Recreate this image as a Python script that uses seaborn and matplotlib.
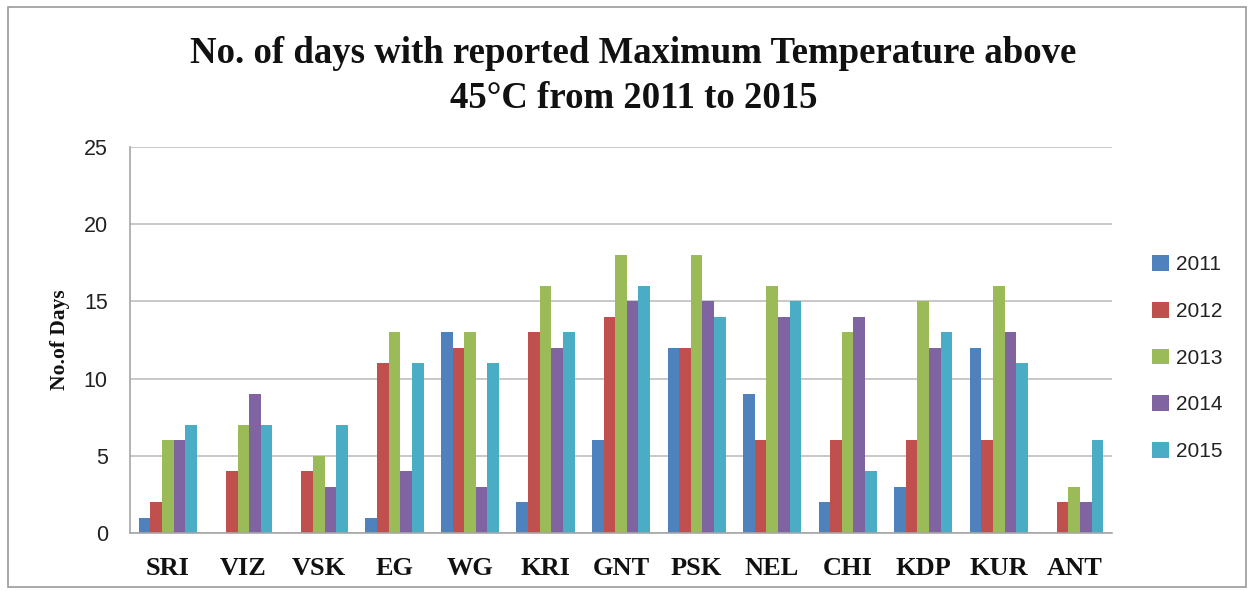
import matplotlib
matplotlib.use("Agg")
import matplotlib.pyplot as plt
import seaborn as sns
import pandas as pd
from matplotlib.patches import Rectangle

districts = ["SRI", "VIZ", "VSK", "EG", "WG", "KRI", "GNT", "PSK", "NEL", "CHI", "KDP", "KUR", "ANT"]
years = ["2011", "2012", "2013", "2014", "2015"]
y2011 = [1, 0, 0, 1, 13, 2, 6, 12, 9, 2, 3, 12, 0]
y2012 = [2, 4, 4, 11, 12, 13, 14, 12, 6, 6, 6, 6, 2]
y2013 = [6, 7, 5, 13, 13, 16, 18, 18, 16, 13, 15, 16, 3]
y2014 = [6, 9, 3, 4, 3, 12, 15, 15, 14, 14, 12, 13, 2]
y2015 = [7, 7, 7, 11, 11, 13, 16, 14, 15, 4, 13, 11, 6]
colors = ["#4F81BD", "#C0504D", "#9BBB59", "#8064A2", "#4BACC6"]

series = [y2011, y2012, y2013, y2014, y2015]
rows = []
for yr, vals in zip(years, series):
    for d, v in zip(districts, vals):
        rows.append({"District": d, "Year": yr, "Days": v})
df = pd.DataFrame(rows)

sns.set_theme(style="white")
plt.rcParams["font.family"] = ["Liberation Sans", "DejaVu Sans"]

fig = plt.figure(figsize=(12.54, 5.91), dpi=100)
ax = fig.add_axes([0.1037, 0.0981, 0.7831, 0.6532])

sns.barplot(data=df, x="District", y="Days", hue="Year", order=districts,
            hue_order=years, palette=colors, width=0.77, gap=0,
            saturation=1, linewidth=0, ax=ax, legend=True)

ax.set_ylim(0, 25)
ax.set_yticks([0, 5, 10, 15, 20, 25])
ax.set_xlim(-0.5, len(districts) - 0.5)
ax.yaxis.grid(True, color="#BFBFBF", linewidth=1.2)
ax.set_axisbelow(True)
for s in ["top", "right"]:
    ax.spines[s].set_visible(False)
for s in ["left", "bottom"]:
    ax.spines[s].set_color("#A6A6A6")
    ax.spines[s].set_linewidth(1.2)
ax.tick_params(axis="both", length=0)
ax.tick_params(axis="y", labelsize=15.5, pad=16, colors="#222222")
ax.tick_params(axis="x", pad=17)
for lbl in ax.get_xticklabels():
    lbl.set_fontfamily("Liberation Serif")
    lbl.set_fontweight("bold")
    lbl.set_fontsize(19)
    lbl.set_color("#111111")
ax.set_xlabel("")
ax.set_ylabel("No.of Days", fontfamily="Liberation Serif", fontweight="bold",
              fontsize=15.5, labelpad=10, color="#111111")

fig.text(0.505, 0.872, "No. of days with reported Maximum Temperature above\n45°C from 2011 to 2015",
         ha="center", va="center", fontfamily="Liberation Serif", fontweight="bold",
         fontsize=26.5, linespacing=1.38, color="#111111")

leg = ax.legend(loc="center left", bbox_to_anchor=(1.022, 0.453), frameon=False,
                fontsize=15, handlelength=0.8, handleheight=0.8,
                labelspacing=1.32, handletextpad=0.35)
for t in leg.get_texts():
    t.set_color("#222222")

fig.patches.append(Rectangle((0.006, 0.006), 0.988, 0.982, transform=fig.transFigure,
                             fill=False, edgecolor="#9A9A9A", linewidth=1.2))

fig.savefig("out.png", dpi=100)
